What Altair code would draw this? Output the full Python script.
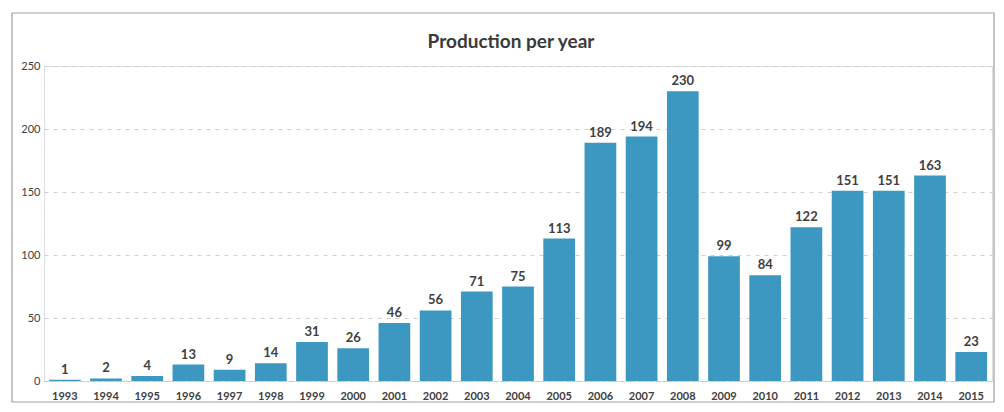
import altair as alt
import pandas as pd

years = [str(y) for y in range(1993, 2016)]
values = [1, 2, 4, 13, 9, 14, 31, 26, 46, 56, 71, 75, 113, 189, 194, 230, 99, 84, 122, 151, 151, 163, 23]
title_text = ["Production per year"]

df = pd.DataFrame({"year": years, "value": values})

FONT = "Lato"
TXT = "#404040"

base = alt.Chart(df).encode(
    x=alt.X("year:N", sort=years, title=None,
            scale=alt.Scale(paddingInner=0.23, paddingOuter=0.12),
            axis=alt.Axis(labelAngle=0, labelFont=FONT, labelFontWeight="bold",
                          labelFontSize=11, labelColor=TXT, labelPadding=9,
                          ticks=False, domain=True, domainColor="#c8c8c8",
                          domainDash=[3, 3], grid=False)),
    y=alt.Y("value:Q", title=None,
            scale=alt.Scale(domain=[0, 250], nice=False),
            axis=alt.Axis(values=[0, 50, 100, 150, 200, 250], labelFont=FONT,
                          labelFontSize=11, labelColor=TXT, labelPadding=4,
                          ticks=False, domain=False, grid=True,
                          gridColor="#cfcfcf", gridDash=[4, 5], gridWidth=1)),
)

bars = base.mark_bar(color="#3c98c1")
labels = base.mark_text(dy=-10, font=FONT, fontWeight="bold", fontSize=13,
                        color=TXT).encode(text="value:Q")

border = alt.Chart(pd.DataFrame({"a": [0]})).mark_rect(
    fill=None, stroke="#a0a0a0", strokeWidth=1.2
).encode(x=alt.value(-32), x2=alt.value(950), y=alt.value(-53), y2=alt.value(336))

title = alt.Chart(pd.DataFrame({"t": title_text})).mark_text(
    font=FONT, fontSize=19, fontWeight="bold", color="#3a3a3a", baseline="middle"
).encode(text="t:N", x=alt.value(467), y=alt.value(-24))

chart = alt.layer(border, bars, labels, title).properties(
    width=948, height=315,
    autosize=alt.AutoSizeParams(type="none"),
    padding={"left": 36, "top": 58, "right": 4, "bottom": 23},
).configure_view(stroke=None).configure(background="white")

chart.save("out.html", embed_options={"renderer": "svg", "actions": False})
